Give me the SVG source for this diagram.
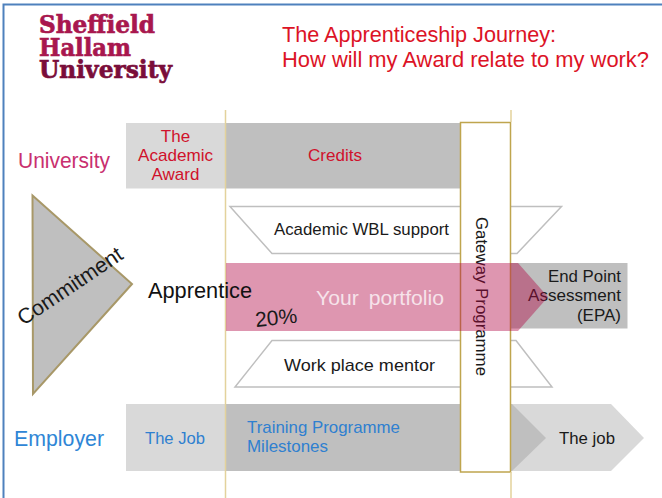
<svg xmlns="http://www.w3.org/2000/svg" width="662" height="498" viewBox="0 0 662 498">
<style>
text{font-family:"Liberation Sans",Arial,sans-serif}
.logo{font-family:"DejaVu Serif","Liberation Serif",serif;font-weight:700;font-size:25px;stroke-width:.7px}
.red{fill:#d0112b;font-size:17px}
.blue{fill:#2f80d0;font-size:17px}
.blk{fill:#1a1a1a;font-size:17px}
.ttl{fill:#dc1326;font-size:21.500px}
.trap{fill:#fff;stroke:#bfbfbf;stroke-width:1.5}
.lt{fill:#d9d9d9}
.dk{fill:#bfbfbf}
.vl{stroke:#e3d29c;stroke-width:1.5;fill:none}
</style>
<rect width="662" height="498" fill="#fff"/>
<path d="M3.500 498V4.500H662" fill="none" stroke="#4f81bd" stroke-width="2"/>
<g id="logo">
<text class="logo" x="39" y="33" fill="#a8174e" stroke="#a8174e" textLength="116" lengthAdjust="spacingAndGlyphs">Sheffield</text>
<text class="logo" x="39" y="56" fill="#a8174e" stroke="#a8174e" textLength="92" lengthAdjust="spacingAndGlyphs">Hallam</text>
<text class="logo" x="39" y="78" fill="#7a0d3a" stroke="#7a0d3a" textLength="133" lengthAdjust="spacingAndGlyphs">University</text>
</g>
<g id="title">
<text class="ttl" x="282" y="42" textLength="274" lengthAdjust="spacingAndGlyphs">The Apprenticeship Journey:</text>
<text class="ttl" x="282" y="67" textLength="367" lengthAdjust="spacingAndGlyphs">How will my Award relate to my work?</text>
</g>
<g id="university-label"><text x="18" y="168" font-size="22" fill="#c9306f" textLength="92" lengthAdjust="spacingAndGlyphs">University</text></g>
<g id="employer-label"><text x="14" y="446" font-size="22" fill="#2f86d6" textLength="90" lengthAdjust="spacingAndGlyphs">Employer</text></g>
<g id="academic-award">
<rect class="lt" x="126" y="123" width="100" height="65.500"/>
<text class="red" text-anchor="middle" x="175.500" y="142">The</text>
<text class="red" text-anchor="middle" x="175.500" y="161" textLength="75" lengthAdjust="spacingAndGlyphs">Academic</text>
<text class="red" text-anchor="middle" x="175.500" y="180">Award</text>
</g>
<g id="credits">
<rect class="dk" x="226" y="123" width="234" height="65.500"/>
<text class="red" x="308" y="161" textLength="54" lengthAdjust="spacingAndGlyphs">Credits</text>
</g>
<g id="commitment">
<path d="M32.500 195.500L132 284L33 394Z" fill="#bfbfbf" stroke="#a89868" stroke-width="2"/>
<text x="0" y="0" font-size="21.500" fill="#1a1a1a" text-anchor="middle" transform="translate(74 292) rotate(-34)">Commitment</text>
</g>
<g id="wbl-support">
<path class="trap" d="M230 206.500H561.500L517 253.500H272Z"/>
<text class="blk" x="274" y="235" textLength="175" lengthAdjust="spacingAndGlyphs">Academic WBL support</text>
</g>
<g id="mentor">
<path class="trap" d="M235 387H552L516 340.500H272Z"/>
<text class="blk" x="284" y="371" textLength="151" lengthAdjust="spacingAndGlyphs">Work place mentor</text>
</g>
<g id="epa">
<rect class="dk" x="511" y="263" width="116.500" height="65.500"/>
<text class="blk" text-anchor="end" x="621" y="282" textLength="73" lengthAdjust="spacingAndGlyphs">End Point</text>
<text class="blk" text-anchor="end" x="621" y="301" textLength="93" lengthAdjust="spacingAndGlyphs">Assessment</text>
<text class="blk" text-anchor="end" x="621" y="321">(EPA)</text>
</g>
<g id="employer-band">
<path class="lt" d="M126 404H611L644 438L611 471H126Z"/>
<path class="dk" d="M226 404H512L546 438L512 471H226Z"/>
<text class="blue" x="145" y="444" textLength="60" lengthAdjust="spacingAndGlyphs">The Job</text>
<text class="blue" x="247" y="433" textLength="153" lengthAdjust="spacingAndGlyphs">Training Programme</text>
<text class="blue" x="247" y="452" textLength="81" lengthAdjust="spacingAndGlyphs">Milestones</text>
<text class="blk" x="559" y="444" textLength="56" lengthAdjust="spacingAndGlyphs">The job</text>
</g>
<g id="gateway">
<rect x="460.500" y="122.500" width="50" height="349.500" fill="#fff" stroke="#bfa54e" stroke-width="1.500"/>
<text class="blk" transform="translate(476 217) rotate(90)" textLength="159" lengthAdjust="spacingAndGlyphs">Gateway Programme</text>
</g>
<g id="connectors">
<path class="vl" d="M225.500 110V498"/>
<path class="vl" d="M511 110V122M511 472V498"/>
</g>
<g id="portfolio">
<path d="M226 263H518L548 297L518 331H226Z" fill="#b00543" fill-opacity=".42"/>
<text x="316" y="305" font-size="21" word-spacing="4" fill="#f6e3ea" textLength="128" lengthAdjust="spacingAndGlyphs">Your portfolio</text>
<text x="148" y="298" font-size="22" fill="#111" textLength="104" lengthAdjust="spacingAndGlyphs">Apprentice</text>
<text x="0" y="0" font-size="21" fill="#1a1a1a" transform="translate(256 327) rotate(-6)">20%</text>
</g>
</svg>
